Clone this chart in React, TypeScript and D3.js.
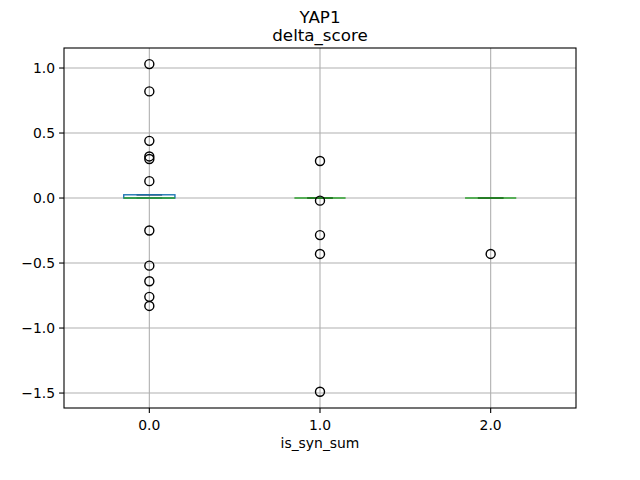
import React from "react";
import * as d3 from "d3";

const groups = [0, 1, 2];
const q1 = [0, 0, 0];
const median = [0, 0, 0];
const q3 = [0.025, 0, 0];
const whiskLo = [0, 0, 0];
const whiskHi = [0.025, 0, 0];
const outliers: number[][] = [
  [1.03, 0.82, 0.44, 0.32, 0.3, 0.13, -0.25, -0.52, -0.64, -0.76, -0.83],
  [0.285, -0.02, -0.285, -0.43, -1.49],
  [-0.43],
];
const yTicks = [-1.5, -1.0, -0.5, 0.0, 0.5, 1.0];

const W = 640, H = 480;
const m = { left: 64, right: 64, top: 48, bottom: 72 };

export default function App() {
  const x = d3.scaleLinear().domain([-0.5, 2.5]).range([m.left, W - m.right]);
  const y = d3.scaleLinear().domain([-1.615, 1.154]).range([H - m.bottom, m.top]);
  const bw = 0.3;
  const font = "DejaVu Sans";
  return (
    <svg width={W} height={H} style={{ display: "block", margin: -8 }} fontFamily={font}>
      <rect width={W} height={H} fill="#fff" />
      {groups.map((g) => (
        <line key={"gx" + g} x1={x(g)} x2={x(g)} y1={m.top} y2={H - m.bottom} stroke="#b0b0b0" strokeWidth={1.1} />
      ))}
      {yTicks.map((t) => (
        <line key={"gy" + t} x1={m.left} x2={W - m.right} y1={y(t)} y2={y(t)} stroke="#b0b0b0" strokeWidth={1.1} />
      ))}
      {groups.map((g, i) => (
        <g key={"b" + g} strokeWidth={1.4}>
          <line x1={x(g)} x2={x(g)} y1={y(q1[i])} y2={y(whiskLo[i])} stroke="#000" />
          <line x1={x(g)} x2={x(g)} y1={y(q3[i])} y2={y(whiskHi[i])} stroke="#000" />
          <line x1={x(g - bw / 4)} x2={x(g + bw / 4)} y1={y(whiskHi[i])} y2={y(whiskHi[i])} stroke="#000" />
          <line x1={x(g - bw / 4)} x2={x(g + bw / 4)} y1={y(whiskLo[i])} y2={y(whiskLo[i])} stroke="#000" />
          <rect x={x(g - bw / 2)} y={y(q3[i])} width={x(g + bw / 2) - x(g - bw / 2)} height={Math.max(0, y(q1[i]) - y(q3[i]))} fill="none" stroke="#1f77b4" />
          <line x1={x(g - bw / 2)} x2={x(g + bw / 2)} y1={y(median[i])} y2={y(median[i])} stroke="#2ca02c" />
          {outliers[i].map((v, j) => (
            <circle key={j} cx={x(g)} cy={y(v)} r={4.5} fill="none" stroke="#000" />
          ))}
        </g>
      ))}
      <rect x={m.left} y={m.top} width={W - m.left - m.right} height={H - m.top - m.bottom} fill="none" stroke="#000" strokeWidth={1.1} />
      {groups.map((g) => (
        <g key={"tx" + g}>
          <line x1={x(g)} x2={x(g)} y1={H - m.bottom} y2={H - m.bottom + 4.9} stroke="#000" strokeWidth={1.1} />
          <text x={x(g)} y={H - m.bottom + 22} textAnchor="middle" fontSize={13.9}>{g.toFixed(1)}</text>
        </g>
      ))}
      {yTicks.map((t) => (
        <g key={"ty" + t}>
          <line x1={m.left - 4.9} x2={m.left} y1={y(t)} y2={y(t)} stroke="#000" strokeWidth={1.1} />
          <text x={m.left - 9} y={y(t)} dy="0.35em" textAnchor="end" fontSize={13.9}>{t < 0 ? "\u2212" + Math.abs(t).toFixed(1) : t.toFixed(1)}</text>
        </g>
      ))}
      <text x={W / 2} y={448} textAnchor="middle" fontSize={13.9}>is_syn_sum</text>
      <text x={W / 2} y={41} textAnchor="middle" fontSize={16.7}>delta_score</text>
      <text x={W / 2} y={23} textAnchor="middle" fontSize={16.7}>YAP1</text>
    </svg>
  );
}
